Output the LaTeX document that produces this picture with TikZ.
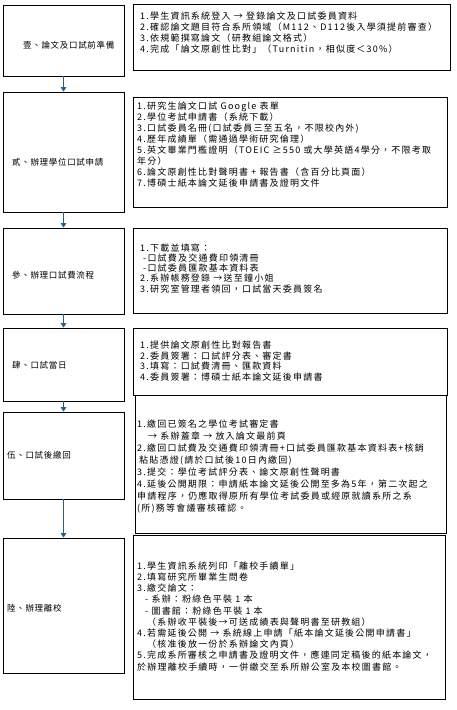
\documentclass[tikz,border=0pt]{standalone}
\usepackage{fontspec}
\newfontfamily\cjk{Noto Sans CJK TC}[LetterSpace=13.5]
\newfontfamily\cjklab{Noto Sans CJK TC}[LetterSpace=8]
\usetikzlibrary{arrows.meta,fit}
\definecolor{arrowblue}{HTML}{23618E}
\begin{document}
\begin{tikzpicture}[x=1pt,y=-1pt,
  box/.style={draw=black,line width=0.8pt,inner sep=0pt},
  lab/.style={anchor=west,inner sep=0pt,font=\cjklab\fontsize{8.5}{10}\selectfont},
  body/.style={anchor=north west,inner sep=0pt,align=left},
  flow/.style={draw=arrowblue,line width=1.6pt,-{Triangle[width=5.5pt,length=4.5pt]}}]
\useasboundingbox[fill=white] (0,0) rectangle (456,710);
% left boxes
\node[box,fit={(3,5) (124,76)}] (L1) {};
\node[box,fit={(3,92) (124,212)}] (L2) {};
\node[box,fit={(3,228) (124,314)}] (L3) {};
\node[box,fit={(3,328) (124,401)}] (L4) {};
\node[box,fit={(3,412) (124,499)}] (L5) {};
\node[box,fit={(3,538) (124,673)}] (L6) {};
% right boxes
\node[box,fit={(133,4) (450,70)}] (R1) {};
\node[box,fit={(133,97) (447,207)}] (R2) {};
\node[box,fit={(133,228) (447,313)}] (R3) {};
\node[box,fit={(133,328) (447,395)}] (R4) {};
\node[box,fit={(135,395) (446,533)}] (R5) {};
\node[box,fit={(133,535) (445,699)}] (R6) {};
% labels
\node[lab] (N1) at (23,45) {壹、論文及口試前準備};
\node[lab] (N2) at (12,162) {貳、辦理學位口試申請};
\node[lab] (N3) at (12,275) {參、辦理口試費流程};
\node[lab] (N4) at (12,365) {肆、口試當日};
\node[lab] (N5) at (7,455) {伍、口試後繳回};
\node[lab] (N6) at (7,608) {陸、辦理離校};
% contents
\node[body,font=\cjk\fontsize{9}{11}\selectfont] (T1) at (140,11.5)
{1.學生資訊系統登入 → 登錄論文及口試委員資料\\
2.確認論文題目符合系所領域（M112、D112後入學須提前審查）\\
3.依規範撰寫論文（研教組論文格式）\\
4.完成「論文原創性比對」（Turnitin，相似度＜30\%）};
\node[body,font=\cjk\fontsize{9}{11}\selectfont] (T2) at (137,101.5)
{1.研究生論文口試 Google 表單\\
2.學位考試申請書（系統下載）\\
3.口試委員名冊(口試委員三至五名，不限校內外)\\
4.歷年成績單（需通過學術研究倫理）\\
5.英文畢業門檻證明（TOEIC ≥550 或大學英語4學分，不限考取\\
年分）\\
6.論文原創性比對聲明書 + 報告書（含百分比頁面）\\
7.博碩士紙本論文延後申請書及證明文件};
\node[body,font=\cjk\fontsize{9}{10.2}\selectfont] (T3) at (140,243.5)
{1.下載並填寫：\\
\hspace*{3pt}-口試費及交通費印領清冊\\
\hspace*{3pt}-口試委員匯款基本資料表\\
2.系辦帳務登錄 →送至鐘小姐\\
3.研究室管理者領回，口試當天委員簽名};
\node[body,font=\cjk\fontsize{9}{10.7}\selectfont] (T4) at (140,340.5)
{1.提供論文原創性比對報告書\\
2.委員簽署：口試評分表、審定書\\
3.填寫：口試費清冊、匯款資料\\
4.委員簽署：博碩士紙本論文延後申請書};
\node[body,font=\cjk\fontsize{9}{12}\selectfont] (T5) at (137,419.5)
{1.繳回已簽名之學位考試審定書\\
\hspace*{11pt}→ 系辦蓋章 → 放入論文最前頁\\
2.繳回口試費及交通費印領清冊+口試委員匯款基本資料表+核銷\\
\hspace*{2pt}粘貼憑證(請於口試後10日內繳回)\\
3.提交：學位考試評分表、論文原創性聲明書\\
4.延後公開期限：申請紙本論文延後公開至多為5年，第二次起之\\
申請程序，仍應取得原所有學位考試委員或經原就讀系所之系\\
(所)務等會議審核確認。};
\node[body,font=\cjk\fontsize{9}{11.2}\selectfont] (T6) at (137,561.5)
{1.學生資訊系統列印「離校手續單」\\
2.填寫研究所畢業生問卷\\
3.繳交論文：\\
\hspace*{8pt}- 系辦：粉綠色平裝 1 本\\
\hspace*{8pt}- 圖書館：粉綠色平裝 1 本\\
\hspace*{10pt}（系辦收平裝後→可送成績表與聲明書至研教組）\\
4.若需延後公開 → 系統線上申請「紙本論文延後公開申請書」\\
\hspace*{10pt}（核准後放一份於系辦論文內頁）\\
5.完成系所審核之申請書及證明文件，應連同定稿後的紙本論文，\\
於辦理離校手續時，一併繳交至系所辦公室及本校圖書館。};
% connectors
\draw[flow] (L1.south) -- (L2.north);
\draw[flow] (L2.south) -- (L3.north);
\draw[flow] (L3.south) -- (L4.north);
\draw[flow] (L4.south) -- (L5.north);
\draw[flow] (L5.south) -- (L6.north);
\end{tikzpicture}
\end{document}
